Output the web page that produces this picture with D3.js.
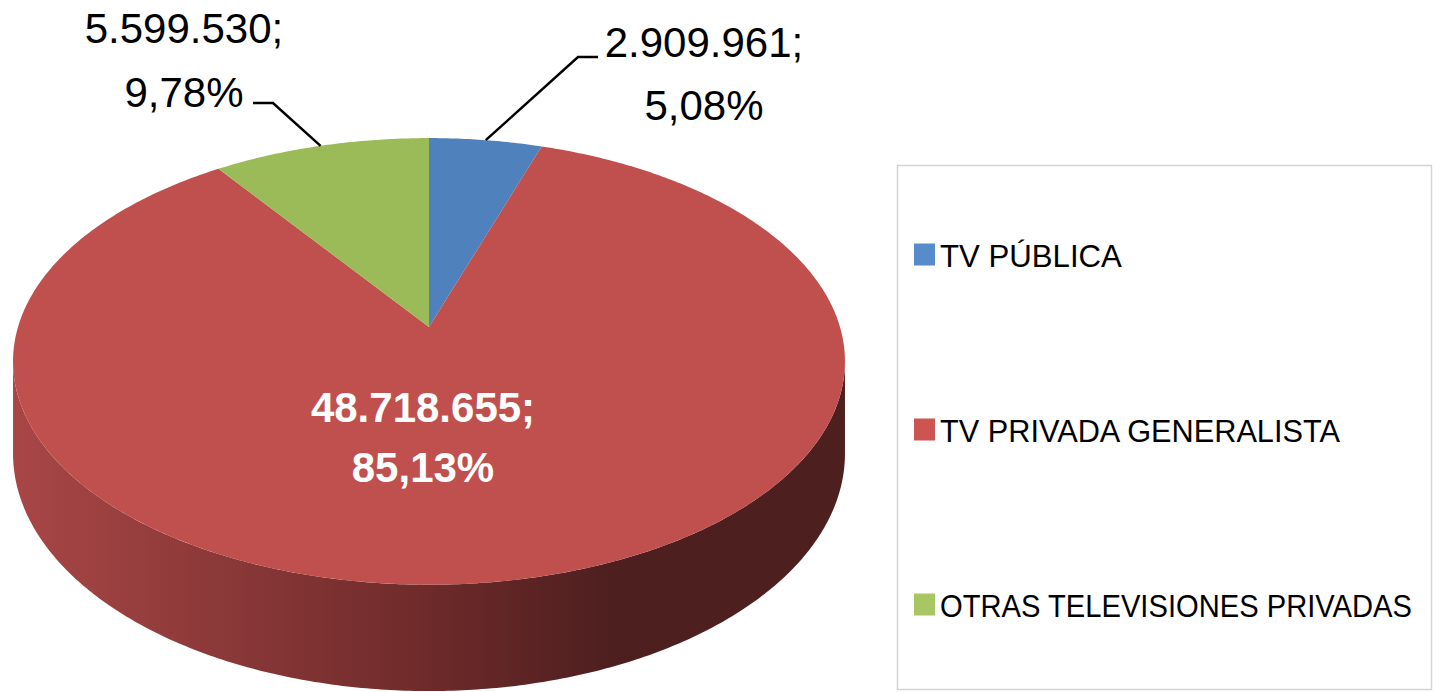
<!DOCTYPE html>
<html>
<head>
<meta charset="utf-8">
<title>Audiencia TV</title>
<script src="https://d3js.org/d3.v7.min.js"></script>
<style>
  body { margin: 0; background: #fff; }
  svg { display: block; }
</style>
</head>
<body>
<script>
// data
var categories = ["TV PÚBLICA", "TV PRIVADA GENERALISTA", "OTRAS TELEVISIONES PRIVADAS"];
var values = [2909961, 48718655, 5599530];
var topColors = ["#4f81bd", "#c0504d", "#9bbb59"];
var legendColors = ["#588bcc", "#cc5552", "#a8c764"];

var width = 1437, height = 692;

// spanish number format
var es = d3.formatLocale({ decimal: ",", thousands: ".", grouping: [3], currency: ["", " €"] });
var fmtNum = es.format(",d"), fmtPct = es.format(".2%");

// perspective pie: circle tilted away from viewer
var cx = 429, cy = 327, a = 411, b = 218, k = 0.154, depth = 90;
function proj(theta, r, drop) {
  var X = r * Math.sin(theta), Z = r * Math.cos(theta), den = 1 + k * Z;
  return [cx + a * X / den, cy - (b * Z - (drop || 0)) / den];
}

var svg = d3.select("body").append("svg")
    .attr("width", width)
    .attr("height", height);

var total = d3.sum(values);
var arcs = d3.pie().sort(null).startAngle(0).endAngle(2 * Math.PI)(values);
var line = d3.line();

function sample(a0, a1) {
  var n = Math.max(2, Math.ceil((a1 - a0) / 0.01));
  return d3.range(n + 1).map(function(i) { return a0 + (a1 - a0) * i / n; });
}

// side gradient
var defs = svg.append("defs");
var grad = defs.append("linearGradient").attr("id", "side")
    .attr("gradientUnits", "userSpaceOnUse")
    .attr("x1", cx - a).attr("x2", cx + a).attr("y1", 0).attr("y2", 0);
grad.append("stop").attr("offset", 0).attr("stop-color", "#a84646");
grad.append("stop").attr("offset", 0.5).attr("stop-color", "#6e2a2a");
grad.append("stop").attr("offset", 0.72).attr("stop-color", "#4e1f1f");
grad.append("stop").attr("offset", 1).attr("stop-color", "#4e1f1f");

// visible front of the side wall
var vis0 = Math.PI - Math.acos(k), vis1 = Math.PI + Math.acos(k);
arcs.forEach(function(d) {
  var s = Math.max(d.startAngle, vis0), e = Math.min(d.endAngle, vis1);
  if (e <= s) return;
  var ts = sample(s, e);
  var pts = ts.map(function(t) { return proj(t, 1, 0); })
    .concat(ts.slice().reverse().map(function(t) { return proj(t, 1, depth); }));
  svg.append("path")
    .attr("d", line(pts) + "Z")
    .attr("fill", "url(#side)");
});

// top face
svg.append("g").selectAll("path")
  .data(arcs)
  .join("path")
    .attr("d", function(d) {
      var pts = [proj(0, 0)].concat(sample(d.startAngle, d.endAngle).map(function(t) { return proj(t, 1, 0); }));
      return line(pts) + "Z";
    })
    .attr("fill", function(d, i) { return topColors[i]; });

// data labels
var fontFam = "'Liberation Sans', Arial, sans-serif";
var labelLayout = [
  { elbow: [578, 57], end: [598, 57], x: 704, y1: 57, y2: 120, color: "#000", weight: "normal" },
  { inside: true, x: 423, y1: 422, y2: 482, color: "#fff", weight: "bold" },
  { elbow: [273, 103], end: [253, 103], x: 184, y1: 43, y2: 107, color: "#000", weight: "normal" }
];

arcs.forEach(function(d, i) {
  var L = labelLayout[i];
  if (!L.inside) {
    var mid = (d.startAngle + d.endAngle) / 2;
    var p = proj(mid, 1, 0);
    svg.append("path")
      .attr("d", line([p, L.elbow, L.end]))
      .attr("fill", "none")
      .attr("stroke", "#000")
      .attr("stroke-width", 2.5);
  }
  var t = svg.append("text")
    .attr("text-anchor", "middle")
    .attr("font-family", fontFam)
    .attr("font-size", 42)
    .attr("font-weight", L.weight)
    .attr("fill", L.color);
  t.append("tspan").attr("x", L.x).attr("y", L.y1).text(fmtNum(d.data) + ";");
  t.append("tspan").attr("x", L.x).attr("y", L.y2).text(fmtPct(d.data / total));
});

// legend
var legend = svg.append("g");
legend.append("rect")
  .attr("x", 897.5).attr("y", 165.5)
  .attr("width", 534).attr("height", 524)
  .attr("fill", "#fff")
  .attr("stroke", "#d4d4d4")
  .attr("stroke-width", 1.5);

var rowY = d3.scaleBand().domain(categories).range([165, 690]);
var textLen = [182, 400, 472];

var rows = legend.selectAll("g.row")
  .data(categories)
  .join("g")
    .attr("class", "row")
    .attr("transform", function(d) { return "translate(0," + (rowY(d) + rowY.bandwidth() / 2) + ")"; });

rows.append("rect")
  .attr("x", 914).attr("y", -9)
  .attr("width", 21).attr("height", 22)
  .attr("fill", function(d, i) { return legendColors[i]; });

// narrow the text horizontally (the original font is condensed)
rows.append("text")
  .attr("x", 0).attr("y", 14)
  .attr("font-family", fontFam)
  .attr("font-size", 32)
  .attr("fill", "#000")
  .text(function(d) { return d; })
  .attr("transform", function(d, i) {
    var w = this.getComputedTextLength();
    return "translate(940,0) scale(" + (textLen[i] / w) + ",1)";
  });
</script>
</body>
</html>
